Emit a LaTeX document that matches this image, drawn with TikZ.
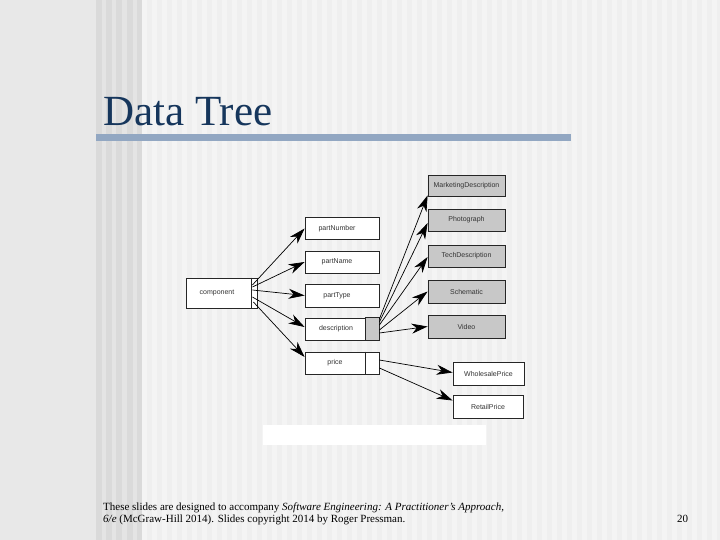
\documentclass[tikz,border=0pt]{standalone}
\usepackage{fontspec}
\setmainfont{Liberation Serif}
\setsansfont{Liberation Sans}
\usetikzlibrary{arrows.meta,calc,shadows}
\definecolor{titleblue}{RGB}{22,54,92}
\definecolor{barblue}{RGB}{146,167,194}
\definecolor{boxgray}{RGB}{200,200,200}
\definecolor{bgleft}{RGB}{232,232,232}
\definecolor{bgmid}{RGB}{228,228,228}
\definecolor{stripedark}{RGB}{218,218,218}
\definecolor{bglight}{RGB}{239,239,239}
\definecolor{stripelight}{RGB}{244,244,244}
\tikzset{
  box/.style={draw=black!85, line width=0.8pt, fill=white, minimum height=22pt,
    inner sep=0pt, font=\sffamily\fontsize{7}{8}\selectfont, text=black!80,
    drop shadow={shadow xshift=0.8pt, shadow yshift=-0.8pt, fill=black!55, opacity=1}},
  graybox/.style={box, fill=boxgray, minimum width=77pt},
  arr/.style={-{Stealth[length=16pt,width=10pt,inset=5pt]}, line width=0.7pt, black},
}
\begin{document}
\begin{tikzpicture}[x=1pt,y=-1pt]
\useasboundingbox (0,0) rectangle (720,540);
% background
\fill[bgleft] (0,0) rectangle (96,540);
\fill[bgmid] (96,0) rectangle (142,540);
\foreach \x in {96,106,116,127,137} \fill[stripedark] (\x,0) rectangle ++(5.5,540);
\fill[bglight] (142,0) rectangle (720,540);
\foreach \x in {142,152,...,712} \fill[stripelight] (\x,0) rectangle ++(5,540);
% title
\node[anchor=base west, inner sep=0pt, font=\fontsize{43}{50}\selectfont, text=titleblue] (title) at (103,126) {Data Tree};
\fill[barblue] (96,134) rectangle (571,141);
% boxes
\node[box, minimum width=71pt, minimum height=30pt] (component) at (221.5,293) {\hspace*{-9pt}component};
\draw[black!85, line width=0.7pt] ($(component.north east)+(-6,0)$) -- ($(component.south east)+(-6,0)$);
\node[box, minimum width=74pt] (pn) at (342,228.5) {\hspace*{-10pt}partNumber};
\node[box, minimum width=74pt] (pna) at (342,262) {\hspace*{-10pt}partName};
\node[box, minimum width=74pt, minimum height=23pt] (pt) at (342,295.5) {\hspace*{-10pt}partType};
\node[box, minimum width=74pt] (desc) at (342,329) {\hspace*{-12pt}description};
\filldraw[fill=boxgray, draw=black!85, line width=0.7pt] ($(desc.north east)+(-14,0)$) rectangle (desc.south east);
\node[box, minimum width=74pt] (price) at (342,363) {\hspace*{-14pt}price};
\draw[black!85, line width=0.7pt] ($(price.north east)+(-14,0)$) -- ($(price.south east)+(-14,0)$);
\node[graybox, minimum height=21pt] (md) at (466.5,185.5) {MarketingDescription};
\node[graybox] (ph) at (466.5,220) {Photograph};
\node[graybox] (td) at (466.5,256) {TechDescription};
\node[graybox, minimum height=23pt] (sc) at (466.5,291.5) {Schematic};
\node[graybox, minimum height=23pt] (vi) at (466.5,326.5) {Video};
\node[box, minimum width=71pt, minimum height=23pt] (wp) at (488.5,373.5) {WholesalePrice};
\node[box, minimum width=70pt, minimum height=23pt] (rp) at (488,406.5) {RetailPrice};
% arrows from component
\draw[arr] ($(component.east)+(-5,-8)$) -- (pn.west);
\draw[arr] ($(component.east)+(-5,-6)$) -- (pna.west);
\draw[arr] ($(component.east)+(-5,-3)$) -- (pt.west);
\draw[arr] ($(component.east)+(-5,4)$) -- ($(desc.west)+(0,-2)$);
\draw[arr] ($(component.east)+(-4,9)$) -- ($(price.west)+(0,-6)$);
% arrows from description
\draw[arr] ($(desc.east)+(0,-10)$) -- ($(md.south west)+(0,-1)$);
\draw[arr] ($(desc.east)+(0,-7)$) -- ($(ph.west)+(0,3)$);
\draw[arr] ($(desc.east)+(0,-4)$) -- ($(td.west)+(0,1)$);
\draw[arr] ($(desc.east)+(0,1)$) -- (sc.west);
\draw[arr] ($(desc.east)+(0,4)$) -- (vi.west);
% arrows from price
\draw[arr] ($(price.east)+(0,-3)$) -- ($(wp.west)+(0,-1)$);
\draw[arr] ($(price.east)+(0,5)$) -- ($(rp.west)+(0,-6)$);
% white strip
\fill[white] (263,425) rectangle (486,445);
% footer
\node[anchor=base west, inner sep=0pt, font=\fontsize{11}{13}\selectfont] (foot1) at (103,510) {These slides are designed to accompany \textit{Software Engineering: A Practitioner’s Approach,}};
\node[anchor=base west, inner sep=0pt, font=\fontsize{11}{13}\selectfont] (foot2) at (103,522) {\textit{6/e} (McGraw-Hill 2014). Slides copyright 2014 by Roger Pressman.};
\node[anchor=base west, inner sep=0pt, font=\fontsize{11}{13}\selectfont] (pagenum) at (677,522) {20};
\end{tikzpicture}
\end{document}
